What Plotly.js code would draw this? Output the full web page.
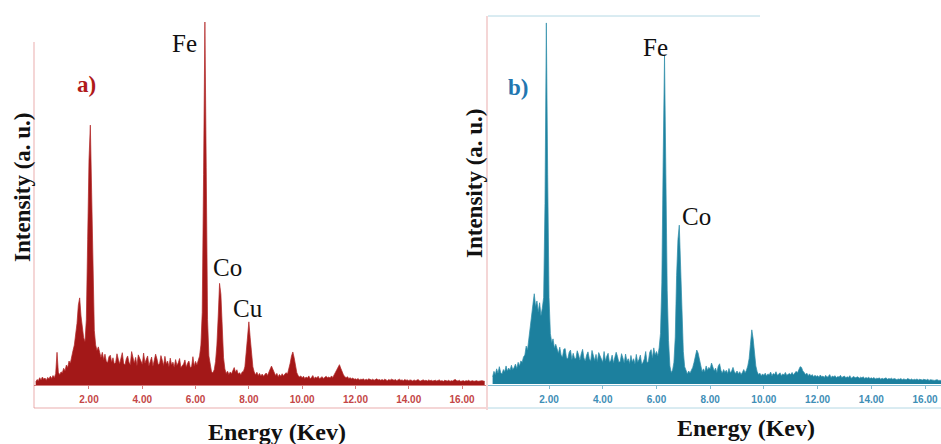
<!DOCTYPE html>
<html>
<head>
<meta charset="utf-8">
<script src="https://cdn.plot.ly/plotly-3.0.1.min.js"></script>
<style>
  html, body { margin: 0; padding: 0; background: #ffffff; }
  #chart { width: 941px; height: 444px; }
</style>
</head>
<body>
<div id="chart"></div>
<script>
// EDS spectra, one channel every 0.05 keV.
// Intensities in arbitrary units (tallest peak of each spectrum ~ 100).
const channelWidth = 0.05;

// Sample a): first channel at 0.00 keV, one row per keV
const startA = 0.0;
const countsA = [
  0.8, 1.5, 1.2, 2.0, 1.4, 2.2, 1.6, 1.9, 1.3, 2.1, 1.7, 2.4, 1.8, 2.6, 2.0, 3.2, 9.0, 3.5, 2.8, 3.6,
  3.4, 4.6, 3.9, 5.5, 4.8, 6.6, 6.0, 8.2, 9.5, 11.0, 13.5, 17.0, 22.0, 24.0, 19.0, 15.0, 13.0, 12.0, 18.0, 40.0,
  62.0, 71.6, 52.0, 26.0, 15.0, 11.0, 9.5, 10.5, 8.8, 7.6, 9.0, 7.0, 8.5, 6.5, 6.2, 7.8, 8.2, 6.3, 7.5, 5.8,
  6.2, 8.6, 7.1, 5.8, 7.4, 8.9, 6.0, 5.5, 7.2, 8.0, 6.3, 5.6, 9.2, 7.0, 6.0, 7.6, 5.4, 8.3, 7.3, 6.1,
  5.7, 8.8, 6.0, 7.1, 8.0, 5.3, 6.4, 7.7, 5.2, 6.9, 8.5, 7.2, 5.6, 5.9, 8.1, 6.8, 5.4, 7.9, 5.8, 6.6,
  5.1, 7.4, 5.5, 6.3, 4.9, 7.0, 5.4, 6.1, 7.3, 4.8, 5.2, 5.8, 6.9, 4.9, 6.0, 6.6, 4.8, 5.0, 7.8, 5.2,
  6.5, 5.5, 6.8, 8.0, 11.0, 20.0, 58.0, 100.0, 60.0, 18.0, 8.0, 5.0, 3.6, 3.4, 4.2, 6.5, 11.0, 19.0, 28.0, 25.0,
  14.0, 7.5, 4.4, 3.2, 3.8, 2.9, 3.6, 3.1, 4.0, 4.8, 3.5, 4.2, 3.0, 3.4, 2.8, 3.6, 3.8, 5.0, 9.0, 14.0,
  17.4, 13.0, 8.0, 5.0, 3.6, 2.8, 3.5, 2.6, 3.2, 2.5, 3.0, 2.4, 2.9, 3.3, 2.6, 3.8, 4.4, 5.2, 4.3, 3.0,
  2.6, 3.2, 2.3, 2.9, 2.4, 3.1, 2.5, 3.0, 3.4, 3.0, 4.2, 6.0, 8.0, 9.1, 7.5, 5.0, 3.4, 2.6, 2.2, 2.5,
  2.0, 2.4, 1.8, 2.2, 1.9, 2.5, 1.7, 2.1, 2.6, 1.8, 2.2, 1.9, 2.4, 1.7, 2.0, 2.3, 1.8, 2.1, 2.4, 2.0,
  2.2, 1.9, 2.5, 2.1, 2.8, 3.2, 4.0, 5.0, 5.6, 4.6, 3.6, 2.8, 2.3, 2.0, 2.3, 1.8, 2.0, 1.7, 1.9, 1.6,
  1.7, 1.5, 1.8, 1.4, 1.6, 1.5, 1.7, 1.3, 1.6, 1.4, 1.7, 1.5, 1.4, 1.6, 1.3, 1.5, 1.7, 1.4, 1.5, 1.3,
  1.5, 1.3, 1.6, 1.4, 1.2, 1.5, 1.3, 1.6, 1.4, 1.3, 1.5, 1.2, 1.4, 1.6, 1.3, 1.4, 1.2, 1.5, 1.3, 1.4,
  1.2, 1.4, 1.3, 1.1, 1.4, 1.2, 1.3, 1.5, 1.2, 1.1, 1.3, 1.4, 1.2, 1.3, 1.1, 1.4, 1.2, 1.3, 1.1, 1.2,
  1.3, 1.1, 1.2, 1.4, 1.1, 1.2, 1.0, 1.3, 1.2, 1.1, 1.3, 1.0, 1.2, 1.1, 1.4, 1.5, 1.2, 1.1, 1.3, 1.0,
  1.1, 1.2, 1.0, 1.2, 1.1, 1.3, 1.0, 1.1, 1.2, 1.0, 1.1, 1.2, 1.0, 1.1, 1.0, 1.2, 1.1, 1.0
];

// Sample b): first channel at -0.10 keV
const startB = -0.10;
const countsB = [
  2.0, 3.5,
  2.6, 4.2, 3.0, 4.8, 3.2, 2.8, 4.0, 3.4, 5.0, 3.6, 4.4, 3.8, 5.2, 4.0, 4.6, 5.5, 4.3, 6.0, 5.0, 6.4,
  6.0, 7.5, 8.0, 10.5, 9.5, 13.0, 15.0, 18.5, 22.0, 25.0, 21.5, 23.0, 20.0, 22.5, 19.0, 21.0, 24.0, 50.0, 100.0, 58.0,
  24.0, 14.0, 11.5, 12.5, 10.0, 11.0, 9.8, 8.5, 10.2, 8.0, 7.4, 9.6, 9.8, 7.2, 7.0, 8.8, 9.4, 6.8, 8.5, 7.1,
  7.0, 9.2, 8.1, 6.6, 8.4, 9.6, 7.2, 6.4, 8.0, 8.9, 7.0, 6.3, 9.3, 7.8, 6.5, 8.2, 6.2, 8.7, 7.9, 6.6,
  6.0, 9.0, 6.4, 7.7, 8.5, 6.0, 6.5, 8.0, 5.8, 7.4, 8.8, 7.6, 6.0, 6.2, 8.4, 7.2, 5.9, 8.3, 6.3, 7.0,
  5.7, 7.9, 6.1, 7.0, 5.6, 8.2, 6.0, 6.8, 8.0, 5.5, 6.0, 7.0, 9.0, 5.8, 6.3, 8.8, 9.5, 7.2, 10.0, 8.0,
  9.0, 7.8, 10.0, 14.0, 28.0, 62.0, 91.0, 58.0, 26.0, 12.0, 5.0, 3.2, 3.8, 6.0, 13.0, 30.0, 40.0, 44.0, 34.0, 20.0,
  9.0, 4.8, 3.4, 2.8, 3.6, 3.0, 3.8, 4.6, 6.0, 8.0, 9.4, 8.6, 6.5, 4.5, 3.4, 4.2, 3.3, 5.0, 3.8, 4.6,
  4.2, 5.8, 4.5, 3.6, 4.4, 3.2, 4.9, 5.6, 3.8, 3.0, 4.0, 3.2, 3.8, 2.9, 4.3, 3.1, 3.6, 4.6, 3.4, 2.9,
  3.6, 2.8, 3.4, 2.6, 3.2, 4.0, 3.1, 3.8, 5.0, 7.0, 11.0, 15.0, 12.5, 8.5, 5.0, 3.4, 2.6, 3.0, 2.3, 2.8,
  2.4, 3.0, 2.2, 2.8, 2.5, 3.3, 2.3, 2.9, 2.6, 3.4, 2.4, 2.7, 3.1, 2.3, 2.8, 2.5, 3.2, 2.4, 2.7, 2.9,
  2.6, 3.2, 2.5, 3.0, 3.5, 3.1, 4.0, 4.8, 4.6, 3.6, 3.2, 2.6, 3.0, 2.3, 2.8, 2.2, 2.6, 2.0, 2.4, 2.1,
  2.3, 1.9, 2.5, 2.0, 2.2, 1.8, 2.4, 1.9, 2.1, 2.6, 1.8, 2.2, 2.0, 2.3, 1.7, 2.1, 1.9, 2.4, 1.8, 2.0,
  2.2, 1.7, 2.0, 1.8, 2.3, 1.6, 1.9, 2.1, 1.7, 1.8, 2.0, 1.6, 1.9, 1.7, 2.0, 1.5, 1.8, 1.6, 1.9, 1.5,
  1.7, 1.5, 1.8, 1.4, 1.6, 1.5, 1.7, 1.3, 1.6, 1.4, 1.5, 1.7, 1.3, 1.5, 1.4, 1.6, 1.3, 1.5, 1.4, 1.2,
  1.4, 1.3, 1.5, 1.2, 1.4, 1.3, 1.2, 1.5, 1.3, 1.2, 1.4, 1.1, 1.3, 1.2, 1.4, 1.1, 1.3, 1.2, 1.1, 1.3,
  1.2, 1.1, 1.3, 1.0, 1.2, 1.1, 1.2, 1.0, 1.1, 1.2, 1.0, 1.1, 1.0
];

// Energy axis ticks
const tickEnergies = [2, 4, 6, 8, 10, 12, 14, 16];
const tickLabels = ['2.00', '4.00', '6.00', '8.00', '10.00', '12.00', '14.00', '16.00'];

// Peak labels: element, energy (keV), label height (a.u.)
const peaksA = [
  { el: 'Fe', e: 5.58, h: 94.2 },
  { el: 'Co', e: 7.21, h: 32.4 },
  { el: 'Cu', e: 7.95, h: 21.1 }
];
const peaksB = [
  { el: 'Fe', e: 5.95, h: 93.3 },
  { el: 'Co', e: 7.5, h: 46.3 }
];

// ---- page geometry (pixels of the 941 x 444 canvas) ----
const W = 941, H = 444;
const px = x => x / W;
const py = y => 1 - y / H;

const redFill = 'rgb(163,24,24)';
const redLine = 'rgba(178,40,40,0.9)';
const tealFill = 'rgb(28,128,158)';
const tealLine = 'rgba(48,142,170,0.9)';

const traces = [
  {
    type: 'scatter', mode: 'lines', x0: startA, dx: channelWidth, y: countsA,
    xaxis: 'x', yaxis: 'y', fill: 'tozeroy', fillcolor: redFill,
    line: { color: redLine, width: 0.8 }, hoverinfo: 'skip', showlegend: false
  },
  {
    type: 'scatter', mode: 'lines', x0: startB, dx: channelWidth, y: countsB,
    xaxis: 'x2', yaxis: 'y2', fill: 'tozeroy', fillcolor: tealFill,
    line: { color: tealLine, width: 0.8 }, hoverinfo: 'skip', showlegend: false
  }
];

function energyAxis(domain, range, lineColor, labelColor) {
  return {
    domain: domain, range: range, showgrid: false, zeroline: false,
    showline: true, linecolor: lineColor, linewidth: 1,
    ticks: 'outside', ticklen: 3, tickwidth: 1, tickcolor: lineColor,
    tickmode: 'array', tickvals: tickEnergies, ticktext: tickLabels,
    ticklabelstandoff: 2,
    tickfont: { family: 'Liberation Sans, Arial, sans-serif', size: 10, color: labelColor, weight: 'bold' },
    fixedrange: true
  };
}
function intensityAxis(domain, range) {
  return {
    domain: domain, range: range, visible: false, showgrid: false,
    zeroline: false, fixedrange: true
  };
}

const serif = 'Liberation Serif, Times New Roman, serif';

const annotations = [];
function paperText(text, x, y, size, color, angle) {
  annotations.push({
    xref: 'paper', yref: 'paper', x: px(x), y: py(y),
    xanchor: 'center', yanchor: 'middle', showarrow: false,
    text: text, textangle: angle || 0,
    font: { family: serif, size: size, color: color }
  });
}
paperText('<b>Intensity (a. u.)</b>', 22, 187, 23, '#111111', -90);
paperText('<b>Intensity (a. u.)</b>', 474, 183, 23, '#111111', -90);
paperText('<b>Energy (Kev)</b>', 277, 432, 24, '#111111');
paperText('<b>Energy (Kev)</b>', 746, 428, 24, '#111111');
paperText('<b>a)</b>', 86, 85, 23, 'rgb(176,26,26)');
paperText('<b>b)</b>', 518, 87, 23, 'rgb(34,118,176)');

peaksA.forEach(p => annotations.push({
  xref: 'x', yref: 'y', x: p.e, y: p.h, xanchor: 'center', yanchor: 'middle',
  showarrow: false, text: p.el, font: { family: serif, size: 25, color: '#111111' }
}));
peaksB.forEach(p => annotations.push({
  xref: 'x2', yref: 'y2', x: p.e, y: p.h, xanchor: 'center', yanchor: 'middle',
  showarrow: false, text: p.el, font: { family: serif, size: 25, color: '#111111' }
}));

// Pale frame lines around the two panels
function frameLine(x0, y0, x1, y1, color) {
  return {
    type: 'line', xref: 'paper', yref: 'paper',
    x0: px(x0), y0: py(y0), x1: px(x1), y1: py(y1),
    line: { color: color, width: 1 }, layer: 'below'
  };
}
const pinkFrame = 'rgba(222,130,130,0.65)';
const tealFrame = 'rgba(130,190,212,0.6)';
const shapes = [
  frameLine(34, 42, 34, 408, pinkFrame),
  frameLine(34, 408, 486, 408, pinkFrame),
  frameLine(487, 16, 487, 410, pinkFrame),
  frameLine(488, 16, 760, 16, tealFrame),
  frameLine(488, 408, 941, 408, tealFrame)
];

const layout = {
  width: W, height: H,
  margin: { l: 0, r: 0, t: 0, b: 0, pad: 0 },
  paper_bgcolor: '#ffffff', plot_bgcolor: 'rgba(0,0,0,0)',
  showlegend: false,
  xaxis: energyAxis([px(34), px(486)], [-0.064, 16.90], 'rgba(200,80,80,0.75)', 'rgb(196,70,70)'),
  yaxis: intensityAxis([py(385), py(15)], [0, 101.93]),
  xaxis2: energyAxis([px(488), 1], [-0.272, 16.594], 'rgba(90,165,195,0.75)', 'rgb(62,142,182)'),
  yaxis2: intensityAxis([py(384), py(15)], [0, 102.2]),
  annotations: annotations,
  shapes: shapes
};

Plotly.newPlot('chart', traces, layout, { staticPlot: true, displayModeBar: false });
</script>
</body>
</html>
